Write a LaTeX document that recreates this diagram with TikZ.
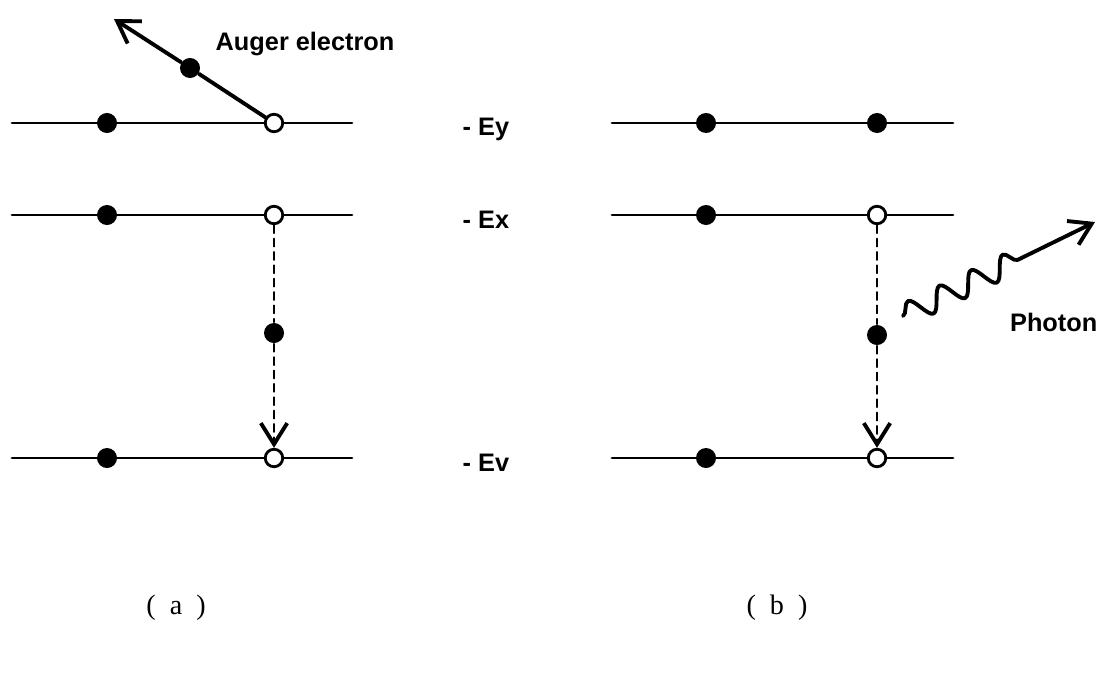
\documentclass[tikz,border=0pt]{standalone}
\usepackage{fontspec}
\setmainfont{Liberation Serif}
\newfontfamily\lblfont{Liberation Sans}
\usetikzlibrary{arrows.meta,decorations.pathmorphing}
\tikzset{
  full/.style={circle, fill, inner sep=0pt, minimum size=2mm},
  hollow/.style={circle, draw, fill=white, line width=0.8pt, inner sep=0pt, minimum size=1.75mm},
  level/.style={line width=0.8pt},
  lbl/.style={inner sep=0pt, font=\lblfont\bfseries\fontsize{7.2}{8.5}\selectfont},
  barb/.style={-{Straight Barb[length=6pt, width=7.5pt, line width=1.1pt]}},
  drop/.style={line width=0.45pt, dash pattern=on 2.3pt off 1.5pt},
  photon/.style={line width=1.1pt, decorate,
    decoration={snake, amplitude=3.2pt, segment length=10pt, post length=20pt}},
}
\begin{document}
\begin{tikzpicture}[x=0.01cm, y=-0.01cm, line join=round, line cap=round]
	\useasboundingbox (0,0) rectangle (1101,676);
	% energy levels
	\foreach \y in {123,215,458} {
		\draw[level] (12,\y) -- (352,\y);
		\draw[level] (612,\y) -- (953,\y);
	}
	% (a) Auger process
	\node[full] (ya1) at (107,123) {};
	\node[hollow] (ya2) at (274,123) {};
	\node[full] (xa1) at (107,215) {};
	\node[hollow] (xa2) at (274,215) {};
	\node[full] (ma) at (274,333) {};
	\node[full] (va1) at (107,458) {};
	\node[hollow] (va2) at (274,458) {};
	\node[full] (auger) at (190,68) {};
	\coordinate (atip) at (114,19);
	\draw[line width=1.1pt] (ya2) -- (auger);
	\draw[line width=1.1pt, barb] (auger) -- (atip);
	\draw[drop] (xa2) -- (ma);
	\draw[drop, barb] (ma) -- (va2);
	\node[lbl, anchor=base west] (auglbl) at (215,51) {Auger electron};
	% (b) radiative process
	\node[full] (yb1) at (706,123) {};
	\node[full] (yb2) at (877,123) {};
	\node[full] (xb1) at (706,215) {};
	\node[hollow] (xb2) at (877,215) {};
	\node[full] (mb) at (877,335) {};
	\node[full] (vb1) at (706,458) {};
	\node[hollow] (vb2) at (877,458) {};
	\draw[drop] (xb2) -- (mb);
	\draw[drop, barb] (mb) -- (vb2);
	\coordinate (pstart) at (903,316);
	\coordinate (ptip) at (1095,222);
	\draw[photon, barb] (pstart) -- (ptip);
	\node[lbl, anchor=base east] (phlbl) at (1098,331) {Photon};
	% level names
	\node[lbl, anchor=base west] (ey) at (462,136) {- Ey};
	\node[lbl, anchor=base west] (ex) at (462,228) {- Ex};
	\node[lbl, anchor=base west] (ev) at (462,471) {- Ev};
	% captions
	\node[font=\fontsize{8}{10}\selectfont] (capa) at (176,608) {(\enspace a\enspace)};
	\node[font=\fontsize{8}{10}\selectfont] (capb) at (777,608) {(\enspace b\enspace)};
\end{tikzpicture}
\end{document}
